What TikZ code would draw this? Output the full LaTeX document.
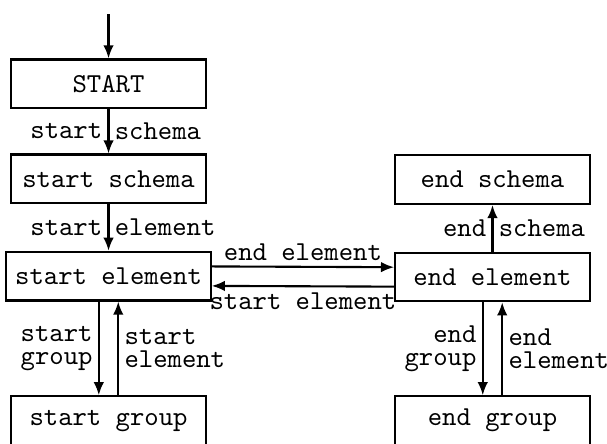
\documentclass[tikz,border=0pt]{standalone}
\usepackage{tikz}
\usetikzlibrary{arrows.meta}

\begin{document}
\begin{tikzpicture}[every node/.style={font=\ttfamily\fontsize{10.4}{12}\selectfont},
    state/.style={draw,rectangle,minimum width=2.6cm,minimum height=0.65cm},
    lbl/.style={inner sep=2pt,font=\ttfamily\fontsize{10.4}{8.9}\selectfont},
    >={Latex[length=5pt,width=4pt]},line width=0.8pt]
        \useasboundingbox (0,0) rectangle (8.11,5.93);
        \coordinate (entry) at (1.45,5.74);
        % start side
        \node[state] (begin) at (1.45,4.81) {START};
        \node[state] (sschema) at (1.45,3.54) {start schema};
        \node[state] (selem) at (1.45,2.24) {start element};
        \node[state] (sgroup) at (1.45,0.31) {start group};
        % end side
        \node[state] (eschema) at (6.58,3.53) {end schema};
        \node[state] (eelem) at (6.58,2.23) {end element};
        \node[state] (egroup) at (6.58,0.31) {end group};
        \draw[->] (entry) -- (begin);
        \draw[->] (begin) -- node[lbl,left]{start} node[lbl,right]{schema} (sschema);
        \draw[->] (sschema) -- node[lbl,left]{start} node[lbl,right]{element} (selem);
        \draw[->] ([xshift=-0.13cm]selem.south) -- node[lbl,left,align=right]{start\\group} ([xshift=-0.13cm]sgroup.north);
        \draw[->] ([xshift=0.13cm]sgroup.north) -- node[lbl,right,align=left]{start\\element} ([xshift=0.13cm]selem.south);
        \draw[->] ([yshift=0.13cm]selem.east) -- node[lbl,above]{end element} ([yshift=0.13cm]eelem.west);
        \draw[->] ([yshift=-0.13cm]eelem.west) -- node[lbl,below]{start element} ([yshift=-0.13cm]selem.east);
        \draw[->] (eelem) -- node[lbl,left]{end} node[lbl,right]{schema} (eschema);
        \draw[->] ([xshift=-0.13cm]eelem.south) -- node[lbl,left,align=right]{end\\group} ([xshift=-0.13cm]egroup.north);
        \draw[->] ([xshift=0.13cm]egroup.north) -- node[lbl,right,align=left]{end\\element} ([xshift=0.13cm]eelem.south);
      \end{tikzpicture}
\end{document}
